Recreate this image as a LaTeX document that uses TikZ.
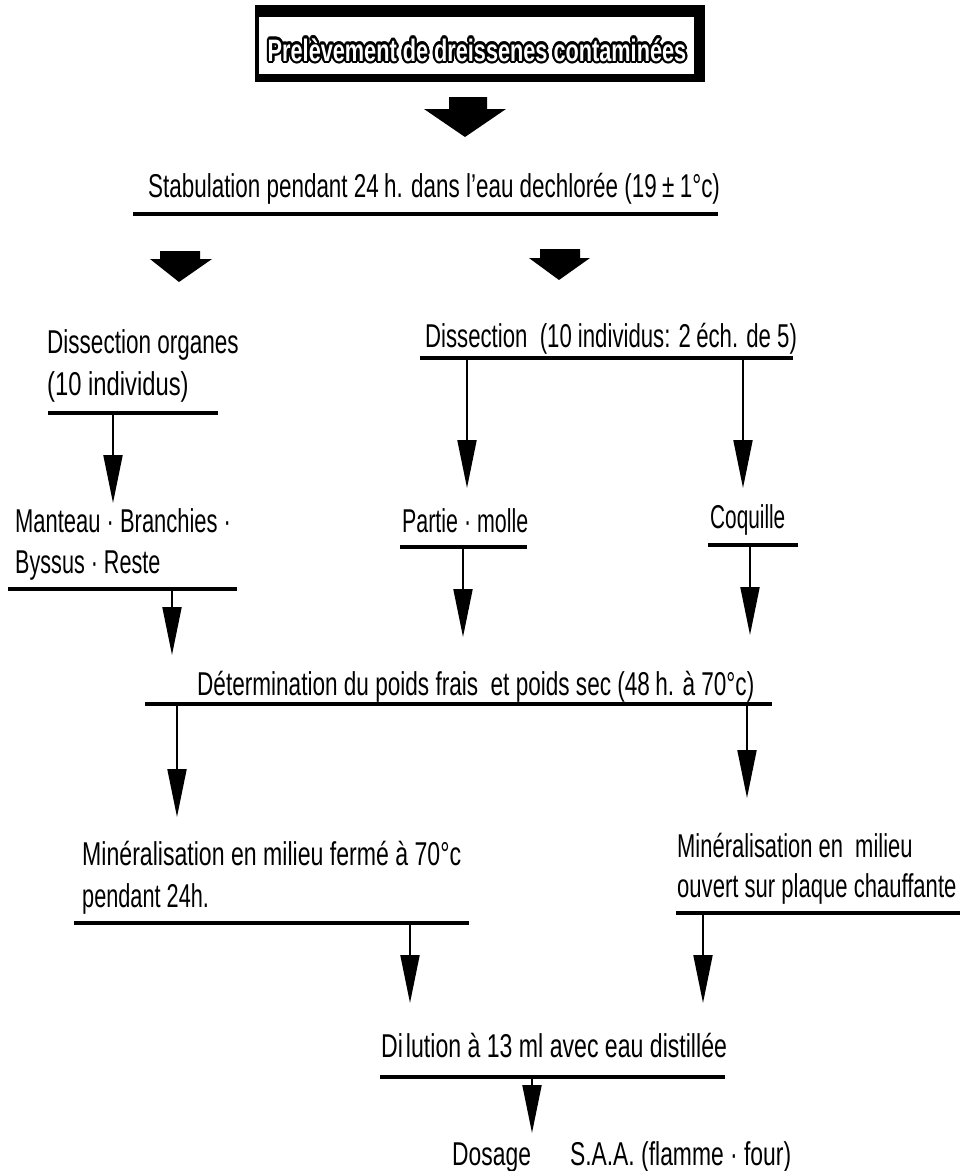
\documentclass[tikz,border=0pt]{standalone}
\usepackage{fontspec}
\setmainfont{Liberation Sans}[FakeStretch=0.70]
\usetikzlibrary{arrows.meta}
\newcommand{\sx}[2]{\scalebox{#1}[1]{#2}}
\begin{document}
\begin{tikzpicture}[x=1pt,y=-1pt,
  lbl/.style={anchor=base west, inner sep=0pt, font=\fontsize{33}{40}\selectfont},
  ttl/.style={anchor=base, inner sep=0pt, font=\fontsize{31}{38}\selectfont\bfseries},
  uline/.style={line width=3.5pt},
  flow/.style={line width=2pt, -{Triangle[length=48pt,width=19pt]}},
  block/.style={fill=black}
]
\useasboundingbox (0,0) rectangle (972,1171);
\fill[white] (0,0) rectangle (972,1171);

% title box
\fill[black] (255,5) rectangle (705,82);
\fill[white] (259,17) rectangle (694,74);
\foreach \a [count=\i] in {0,22.5,...,337.5}
  \node[ttl, text=black] (tsh\i) at ([shift={(\a:2.2pt)}]477,61) {Prelèvement de dreissenes contaminées};
\node[ttl, text=white] (title) at (477,61) {Prelèvement de dreissenes contaminées};

% block arrows
\path[block] (449,97) -- (487,97) -- (487,109) -- (506,109) -- (465,137) -- (424,109) -- (449,109) -- cycle;
\path[block] (160,251) -- (200,251) -- (200,259) -- (212,259) -- (179,282) -- (150,259) -- (160,259) -- cycle;
\path[block] (540,249) -- (580,249) -- (580,258) -- (590,258) -- (559,280) -- (529,258) -- (540,258) -- cycle;

% texts
\node[lbl] (stab) at (148,197) {\sx{0.971}{Stabulation pendant 24\,h. dans l'eau dechlorée (19\,±\,1°c)}};
\draw[uline] (133,214) -- (718,214);

\node[lbl] (dorg1) at (47,353) {\sx{0.975}{Dissection organes}};
\node[lbl] (dorg2) at (47,395) {\sx{1.03}{(10 individus)}};
\draw[uline] (48,413) -- (218,413);

\node[lbl] (mant1) at (15,532) {\sx{0.95}{Manteau · Branchies ·}};
\node[lbl] (mant2) at (15,573) {\sx{0.935}{Byssus · Reste}};
\draw[uline] (8,589) -- (237,589);

\node[lbl] (diss) at (425,347) {\sx{0.96}{Dissection \ (10 individus: 2\,éch. de 5)}};
\draw[uline] (420,358) -- (793,358);

\node[lbl] (partie) at (402,532) {\sx{0.926}{Partie · molle}};
\draw[uline] (400,547) -- (527,547);
\node[lbl] (coq) at (710,528) {\sx{0.9}{Coquille}};
\draw[uline] (708,545) -- (798,545);

\node[lbl] (det) at (197,695) {\sx{0.977}{Détermination du poids frais \ et poids sec (48\,h. à 70°c)}};
\draw[uline] (145,704) -- (772,704);

\node[lbl] (min1) at (82,865) {Minéralisation en milieu fermé à 70°c};
\node[lbl] (min2) at (82,907) {\sx{0.94}{pendant 24h.}};
\draw[uline] (74,923) -- (469,923);
\node[lbl] (minr1) at (677,857) {\sx{0.95}{Minéralisation en \ milieu}};
\node[lbl] (minr2) at (677,897) {\sx{0.955}{ouvert sur plaque chauffante}};
\draw[uline] (676,913) -- (960,913);

\node[lbl] (dil) at (381,1057) {Di\hspace{3pt}lution à 13 ml avec eau distillée};
\draw[uline] (380,1077) -- (725,1077);
\node[lbl] (dos) at (452,1165) {\sx{0.99}{Dosage \quad S.A.A. (flamme · four)}};

% connector coordinates
\coordinate (aAs) at (113,413); \coordinate (aAe) at (113,503);
\coordinate (aBs) at (467,358); \coordinate (aBe) at (467,488);
\coordinate (aCs) at (743,358); \coordinate (aCe) at (743,488);
\coordinate (aDs) at (172,589); \coordinate (aDe) at (172,655);
\coordinate (aEs) at (463,547); \coordinate (aEe) at (463,637);
\coordinate (aFs) at (750,545); \coordinate (aFe) at (750,635);
\coordinate (aGs) at (177,704); \coordinate (aGe) at (177,817);
\coordinate (aHs) at (747,704); \coordinate (aHe) at (747,798);
\coordinate (aIs) at (410,923); \coordinate (aIe) at (410,1003);
\coordinate (aJs) at (703,913); \coordinate (aJe) at (703,1003);
\coordinate (aKs) at (532,1077); \coordinate (aKe) at (532,1133);

\foreach \c in {A,B,C,D,E,F,G,H,I,J,K}
  \draw[flow] (a\c s) -- (a\c e);
\end{tikzpicture}
\end{document}
